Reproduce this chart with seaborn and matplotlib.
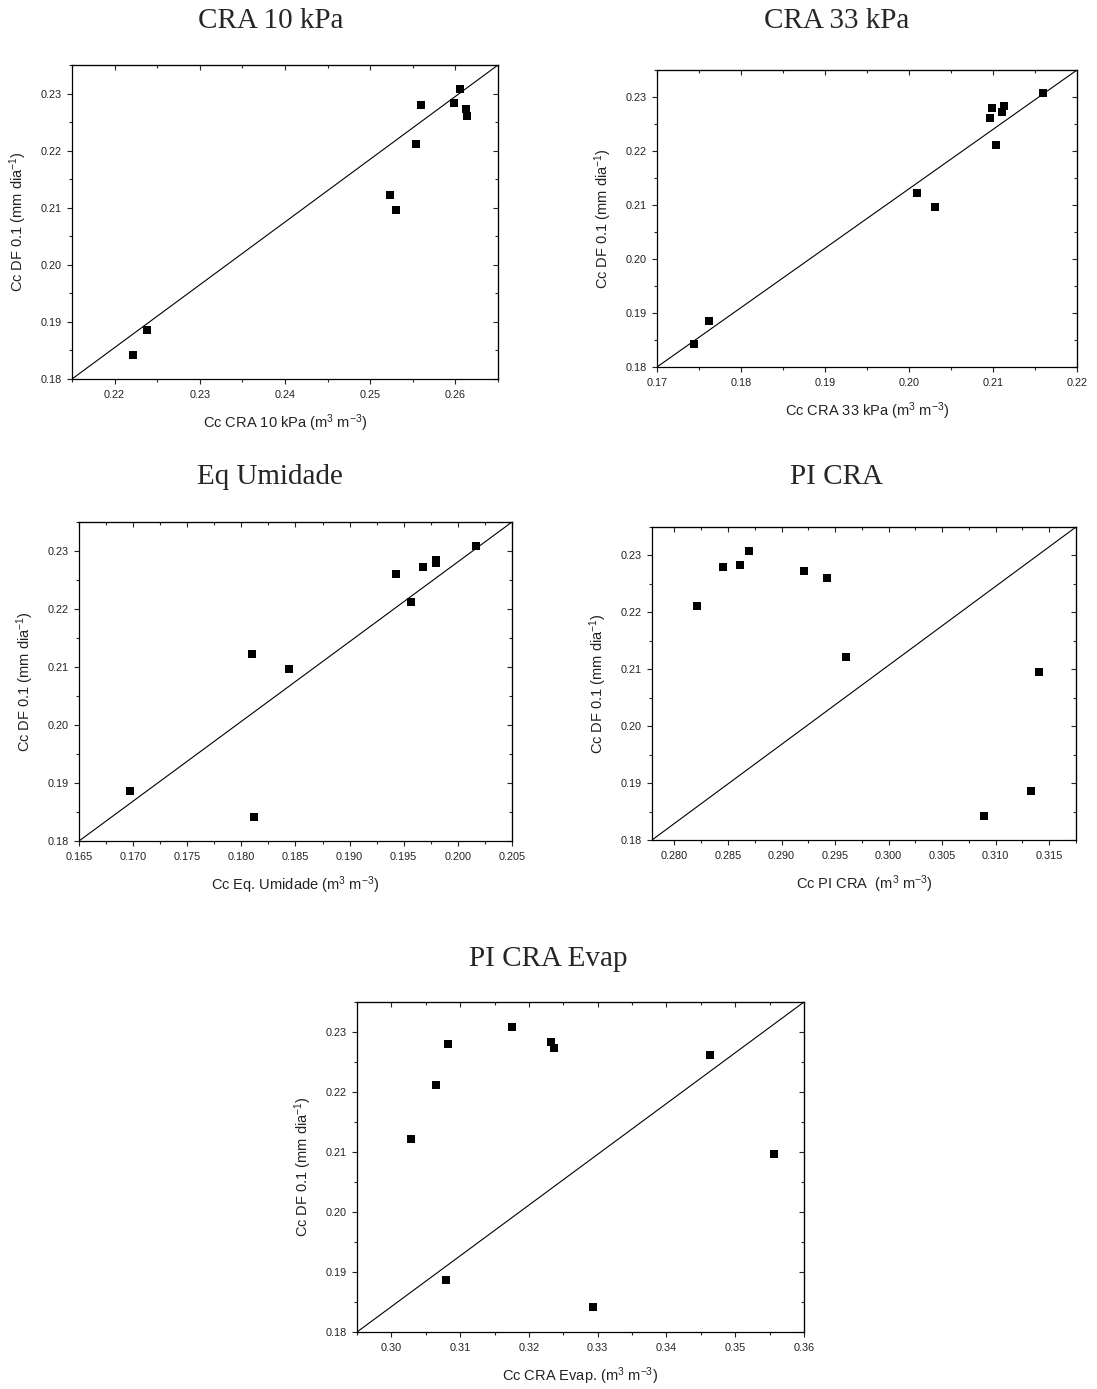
import numpy as np
import pandas as pd
import matplotlib
matplotlib.use("Agg")
import matplotlib.pyplot as plt
import seaborn as sns
from matplotlib.ticker import MultipleLocator, FormatStrFormatter

# ---- data ----
cc_df01 = [0.2308, 0.2284, 0.2280, 0.2273, 0.2261, 0.2212, 0.2122, 0.2096, 0.1886, 0.1842]
cc_cra10 = [0.2605, 0.2598, 0.2560, 0.2613, 0.2614, 0.2554, 0.2523, 0.2530, 0.2238, 0.2222]
cc_cra33 = [0.2160, 0.2113, 0.2099, 0.2111, 0.2097, 0.2104, 0.2010, 0.2031, 0.1762, 0.1744]
cc_equmid = [0.2017, 0.1980, 0.1980, 0.1968, 0.1943, 0.1957, 0.1810, 0.1844, 0.1697, 0.1812]
cc_picra = [0.2870, 0.2861, 0.2845, 0.2921, 0.2942, 0.2821, 0.2960, 0.3140, 0.3133, 0.3089]
cc_picra_evap = [0.3175, 0.3232, 0.3083, 0.3237, 0.3463, 0.3065, 0.3029, 0.3557, 0.3080, 0.3293]

titles = ["CRA 10 kPa", "CRA 33 kPa", "Eq Umidade", "PI CRA", "PI CRA Evap"]
xlabels = [r"Cc CRA 10 kPa (m$^{3}$ m$^{-3}$)",
           r"Cc CRA 33 kPa (m$^{3}$ m$^{-3}$)",
           r"Cc Eq. Umidade (m$^{3}$ m$^{-3}$)",
           r"Cc PI CRA  (m$^{3}$ m$^{-3}$)",
           r"Cc CRA Evap. (m$^{3}$ m$^{-3}$)"]
ylabel = r"Cc DF 0.1 (mm dia$^{-1}$)"
xvalues = [cc_cra10, cc_cra33, cc_equmid, cc_picra, cc_picra_evap]
xlims = [(0.215, 0.265), (0.17, 0.22), (0.165, 0.205), (0.2779, 0.3175), (0.295, 0.36)]
xmajor = [0.01, 0.01, 0.005, 0.005, 0.01]
xfmt = ["%.2f", "%.2f", "%.3f", "%.3f", "%.2f"]
ylim = (0.18, 0.235)

# ---- style ----
sns.set_style("ticks")
plt.rcParams["font.family"] = ["Liberation Sans", "DejaVu Sans"]
plt.rcParams["mathtext.fontset"] = "custom"
plt.rcParams["mathtext.rm"] = "Liberation Sans"
plt.rcParams["mathtext.it"] = "Liberation Sans:italic"

W, H = 1097, 1389
fig = plt.figure(figsize=(W / 100, H / 100), dpi=100)

# axes boxes in pixels: left, right, top, bottom
boxes = [(72, 498, 65, 379),
         (657, 1077, 70, 367),
         (79, 512, 522, 841),
         (652, 1076, 527, 840),
         (357, 804, 1002, 1332)]
title_pos = [(271, 21), (837, 21), (270, 477), (837, 477), (548, 959)]

for i in range(5):
    l, r, t, b = boxes[i]
    ax = fig.add_axes([l / W, 1 - b / H, (r - l) / W, (b - t) / H])
    df = pd.DataFrame({"x": xvalues[i], "y": cc_df01})
    sns.scatterplot(data=df, x="x", y="y", ax=ax, marker="s", s=28,
                    color="black", edgecolor="black", linewidth=0, zorder=3)
    ax.plot([0, 1], [0, 1], transform=ax.transAxes, color="black", lw=0.8, zorder=2)
    ax.set_xlim(*xlims[i])
    ax.set_ylim(*ylim)

    ax.xaxis.set_major_locator(MultipleLocator(xmajor[i]))
    ax.xaxis.set_minor_locator(MultipleLocator(xmajor[i] / 2))
    ax.xaxis.set_major_formatter(FormatStrFormatter(xfmt[i]))
    ax.yaxis.set_major_locator(MultipleLocator(0.01))
    ax.yaxis.set_minor_locator(MultipleLocator(0.005))
    ax.yaxis.set_major_formatter(FormatStrFormatter("%.2f"))
    ax.tick_params(which="major", direction="out", length=3.6, width=0.8,
                   labelsize=7.8, pad=4, colors="#222222")
    ax.tick_params(which="minor", direction="out", length=2.2, width=0.8)

    for sp in ax.spines.values():
        sp.set_visible(True)
        sp.set_linewidth(0.9)
        sp.set_color("black")

    secx = ax.secondary_xaxis("top")
    secx.xaxis.set_major_locator(MultipleLocator(xmajor[i]))
    secx.xaxis.set_minor_locator(MultipleLocator(xmajor[i] / 2))
    secx.tick_params(which="major", direction="in", length=3.6, width=0.8, labeltop=False)
    secx.tick_params(which="minor", direction="in", length=2.2, width=0.8)
    secy = ax.secondary_yaxis("right")
    secy.yaxis.set_major_locator(MultipleLocator(0.01))
    secy.yaxis.set_minor_locator(MultipleLocator(0.005))
    secy.tick_params(which="major", direction="in", length=3.6, width=0.8, labelright=False)
    secy.tick_params(which="minor", direction="in", length=2.2, width=0.8)

    ax.set_xlabel(xlabels[i], fontsize=10.5, labelpad=9, color="#222222")
    ax.set_ylabel(ylabel, fontsize=10.5, labelpad=8, color="#222222")

    tx, ty = title_pos[i]
    fig.text(tx / W, 1 - ty / H, titles[i], ha="center", va="center",
             fontsize=21, family=["Liberation Serif", "DejaVu Serif"])

fig.savefig("out.png", dpi=100, facecolor="white")
